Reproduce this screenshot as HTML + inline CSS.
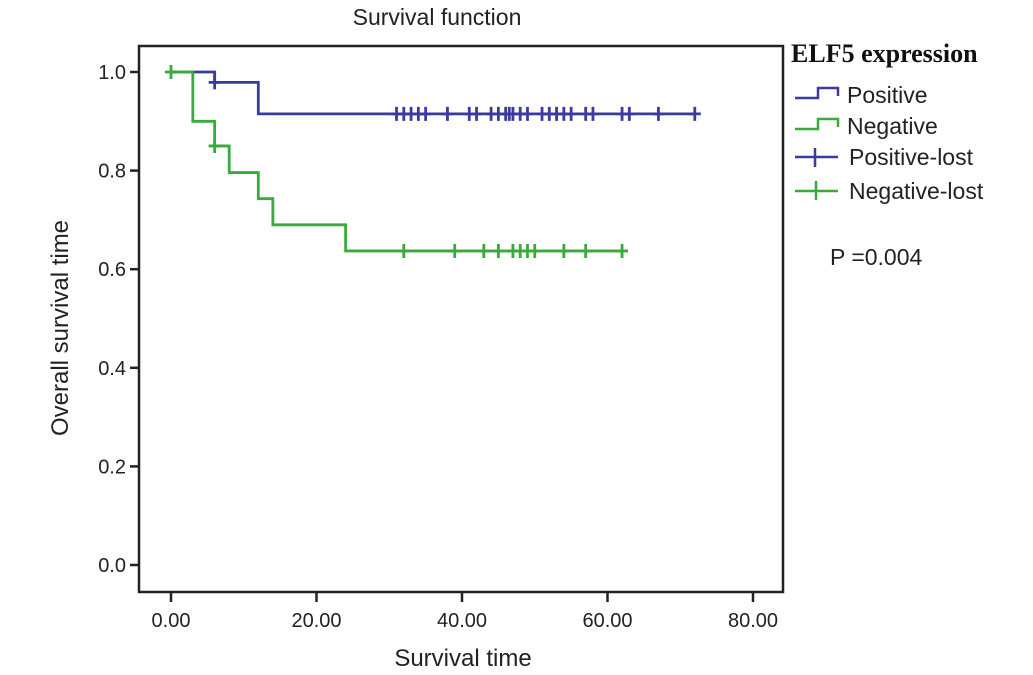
<!DOCTYPE html>
<html><head><meta charset="utf-8"><style>
body{margin:0;background:#fff;}
svg{display:block;font-family:"Liberation Sans",Arial,sans-serif;}
</style></head><body>
<svg id="chart" width="1033" height="675" viewBox="0 0 1033 675">
<text x="437" y="25" text-anchor="middle" font-size="23" fill="#222">Survival function</text>
<rect x="139" y="46" width="644" height="546" fill="none" stroke="#222" stroke-width="2.5"/>
<g id="axes"></g>
<g id="series"></g>
<text x="463" y="666" text-anchor="middle" font-size="24" fill="#222">Survival time</text>
<text transform="translate(68,328) rotate(-90)" text-anchor="middle" font-size="24" fill="#222">Overall survival time</text>
<g>
<text x="791" y="62" font-family="Liberation Serif,serif" font-weight="bold" font-size="26" fill="#111">ELF5 expression</text>
<g><path d="M795 98 H818 V88 H838 V96" fill="none" stroke="#3a3aa0" stroke-width="2.5"/><text x="847" y="103" font-size="23" fill="#222">Positive</text></g>
<g><path d="M795 129 H818 V119 H838 V127" fill="none" stroke="#3aaa3a" stroke-width="2.5"/><text x="847" y="134" font-size="23" fill="#222">Negative</text></g>
<g><path d="M795 157 H838 M815 148 V167" fill="none" stroke="#3a3aa0" stroke-width="2.5"/><text x="849" y="165" font-size="23" fill="#222">Positive-lost</text></g>
<g><path d="M795 191 H838 M816 181 V200" fill="none" stroke="#3aaa3a" stroke-width="2.5"/><text x="849" y="199" font-size="23" fill="#222">Negative-lost</text></g>
<text x="830" y="265" font-size="23" fill="#222">P =0.004</text>
</g>
</svg>
<script>
const xTicks=[0,20,40,60,80];
const xTickLabels=["0.00","20.00","40.00","60.00","80.00"];
const yTicks=[0,0.2,0.4,0.6,0.8,1.0];
const yTickLabels=["0.0","0.2","0.4","0.6","0.8","1.0"];
const posTimes=[0,6,12,72];
const posSurv=[1.0,0.979,0.915,0.915];
const posCensor=[6,31,32,33,34,35,38,41,42,44,45,46,46.5,47,48,49,51,52,53,54,55,57,58,62,63,67,72];
const negTimes=[0,3,6,8,12,14,24,62];
const negSurv=[1.0,0.9,0.85,0.796,0.743,0.69,0.637,0.637];
const negCensor=[0,6,32,39,43,45,47,48,49,50,54,57,62];
const NS="http://www.w3.org/2000/svg";
const xs=t=>171+t*(753-171)/80;
const ys=v=>565-v*493;
function mk(tag,attrs,parent){const e=document.createElementNS(NS,tag);for(const k in attrs)e.setAttribute(k,attrs[k]);parent.appendChild(e);return e;}
const axes=document.getElementById('axes');
xTicks.forEach((t,i)=>{
  const l=mk('line',{x1:xs(t),x2:xs(t),y1:592,y2:602,stroke:'#222','stroke-width':2.5},axes);
  
  
  const tx=mk('text',{x:xs(t),y:627,'text-anchor':'middle','font-size':20,fill:'#222'},axes);
  tx.textContent=xTickLabels[i];
  
  
});
yTicks.forEach((v,i)=>{
  const l=mk('line',{x1:130,x2:139,y1:ys(v),y2:ys(v),stroke:'#222','stroke-width':2.5},axes);
  
  
  const tx=mk('text',{x:126,y:ys(v)+7,'text-anchor':'end','font-size':20,fill:'#222'},axes);
  tx.textContent=yTickLabels[i];
  
  
});
function stepAt(times,surv,t){let v=surv[0];for(let i=0;i<times.length;i++){if(times[i]<=t)v=surv[i];}return v;}
function drawSeries(times,surv,censor,color,name){
  const g=document.getElementById('series');
  let d='M'+xs(times[0])+' '+ys(surv[0]);
  for(let i=1;i<times.length;i++){d+=' H'+xs(times[i])+' V'+ys(surv[i]);}
  const p=mk('path',{d:d,fill:'none',stroke:color,'stroke-width':2.8},g);
  
  
  censor.forEach(t=>{
    const v=stepAt(times,surv,t);
    const c=mk('path',{d:'M'+xs(t)+' '+(ys(v)-7)+' V'+(ys(v)+7)+' M'+(xs(t)-6)+' '+ys(v)+' H'+(xs(t)+6),stroke:color,'stroke-width':2.8,fill:'none'},g);
    
    
  });
}
drawSeries(posTimes,posSurv,posCensor,'#3a3aa0','positive');
drawSeries(negTimes,negSurv,negCensor,'#3aaa3a','negative');
</script>
</body></html>
